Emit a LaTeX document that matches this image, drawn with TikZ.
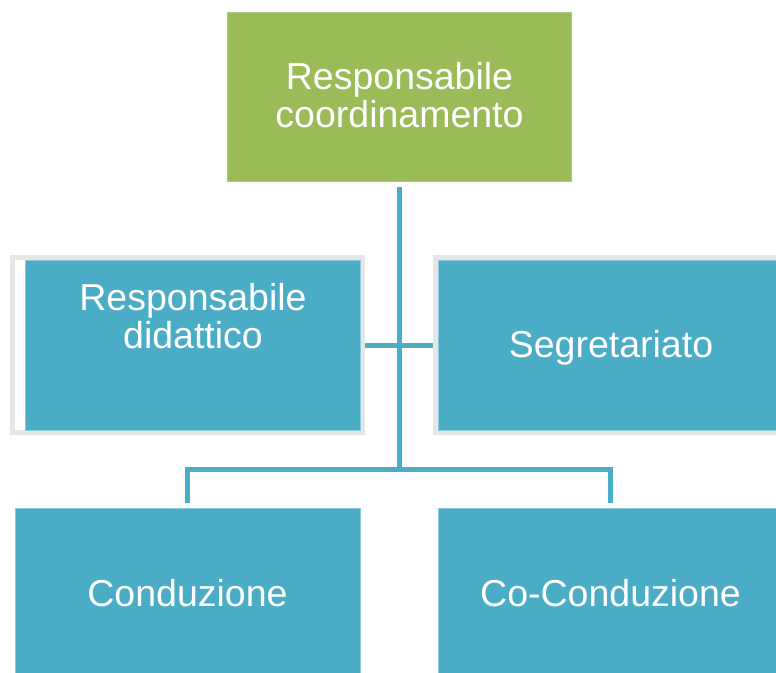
\documentclass[tikz,border=0pt]{standalone}
\usepackage{fontspec}
\setmainfont{Liberation Sans}
\definecolor{boxgreen}{HTML}{9BBB59}
\definecolor{boxblue}{HTML}{4BACC6}
\definecolor{boxedge}{HTML}{8CCBDC}
\definecolor{framegray}{HTML}{E6E6E6}
\begin{document}
\begin{tikzpicture}[x=1pt,y=-1pt,
  box/.style={rectangle, inner sep=0pt, outer sep=0pt, line width=0.8pt},
  bluebox/.style={box, fill=boxblue, draw=boxedge},
  greenbox/.style={box, fill=boxgreen, draw=boxgreen!80!white},
  framebox/.style={box, draw=framegray, line width=5pt, fill=white},
  txt/.style={anchor=base, inner sep=0pt, text=white, font=\fontsize{37.5}{38.5}\selectfont},
  conn/.style={draw=boxblue, line width=5pt}]
\useasboundingbox (0,0) rectangle (776,672);
\clip (0,0) rectangle (776,672);
% boxes
\node[greenbox, minimum width=344pt, minimum height=169pt] (top) at (399.5,96.5) {};
\node[framebox, minimum width=350pt, minimum height=175pt] (lmf) at (187.5,345) {};
\node[bluebox, minimum width=335pt, minimum height=170pt] (lm) at (192.5,345) {};
\node[framebox, minimum width=351pt, minimum height=175pt] (rmf) at (611,345) {};
\node[bluebox, minimum width=346pt, minimum height=170pt] (rm) at (611,345) {};
\node[bluebox, minimum width=345pt, minimum height=168pt] (bl) at (187.5,592) {};
\node[bluebox, minimum width=345pt, minimum height=168pt] (br) at (610.5,592) {};
% texts
\node[txt] (t1) at (399.5,89) {Responsabile};
\node[txt] (t2) at (399.5,127.5) {coordinamento};
\node[txt] (t3) at (193,310) {Responsabile};
\node[txt] (t4) at (193,348.5) {didattico};
\node[txt] (t5) at (611,357) {Segretariato};
\node[txt] (t6) at (187.5,606) {Conduzione};
\node[txt] (t7) at (610.5,606) {Co-Conduzione};
% connectors
\coordinate (bus) at (top.south |- 0,469.5);
\draw[conn, shorten <=6pt] (top.south) -- (bus);
\draw[conn, shorten <=2.5pt, shorten >=2.5pt] (lmf.east) -- (rmf.west);
\draw[conn, shorten <=5pt, shorten >=5pt] (bl.north) -- (bl.north |- bus) -- (br.north |- bus) -- (br.north);
\end{tikzpicture}
\end{document}
